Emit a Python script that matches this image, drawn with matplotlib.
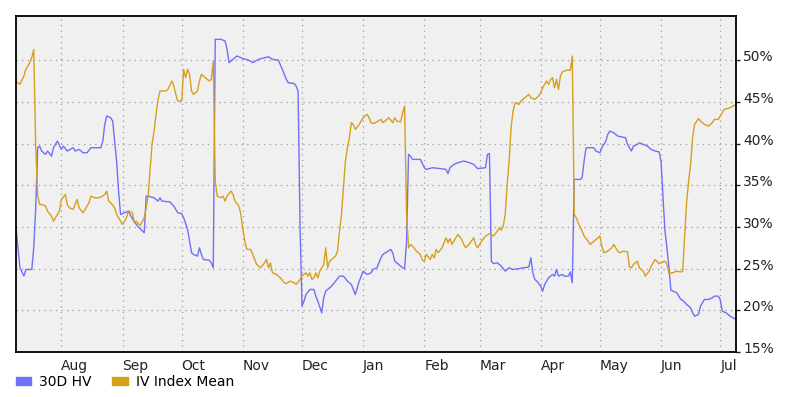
import matplotlib
matplotlib.use("Agg")
import matplotlib.pyplot as plt
import matplotlib.dates as mdates
from matplotlib.patches import Patch
from matplotlib.transforms import ScaledTranslation
import pandas as pd

# 30D historical volatility (%)
hv_dates = [
    "2022-07-09", "2022-07-11", "2022-07-13", "2022-07-14", "2022-07-17", "2022-07-18", "2022-07-19",
    "2022-07-20", "2022-07-21", "2022-07-22", "2022-07-24", "2022-07-25", "2022-07-27", "2022-07-28",
    "2022-07-29", "2022-07-30", "2022-08-01", "2022-08-02", "2022-08-04", "2022-08-07", "2022-08-08",
    "2022-08-10", "2022-08-12", "2022-08-14", "2022-08-16", "2022-08-21", "2022-08-22", "2022-08-23",
    "2022-08-24", "2022-08-26", "2022-08-27", "2022-08-28", "2022-08-29", "2022-08-30", "2022-08-31",
    "2022-09-01", "2022-09-04", "2022-09-05", "2022-09-07", "2022-09-09", "2022-09-12", "2022-09-13",
    "2022-09-14", "2022-09-17", "2022-09-19", "2022-09-20", "2022-09-21", "2022-09-25", "2022-09-27",
    "2022-09-29", "2022-10-01", "2022-10-02", "2022-10-04", "2022-10-05", "2022-10-06", "2022-10-07",
    "2022-10-09", "2022-10-10", "2022-10-11", "2022-10-12", "2022-10-15", "2022-10-16", "2022-10-17",
    "2022-10-18", "2022-10-21", "2022-10-23", "2022-10-24", "2022-10-25", "2022-10-27", "2022-10-29",
    "2022-11-01", "2022-11-04", "2022-11-06", "2022-11-09", "2022-11-12", "2022-11-14", "2022-11-16",
    "2022-11-19", "2022-11-21", "2022-11-23", "2022-11-24", "2022-11-27", "2022-11-28", "2022-11-29",
    "2022-11-30", "2022-12-01", "2022-12-02", "2022-12-03", "2022-12-05", "2022-12-07", "2022-12-08",
    "2022-12-09", "2022-12-10", "2022-12-11", "2022-12-12", "2022-12-13", "2022-12-16", "2022-12-18",
    "2022-12-20", "2022-12-22", "2022-12-24", "2022-12-26", "2022-12-27", "2022-12-28", "2022-12-29",
    "2022-12-30", "2023-01-01", "2023-01-03", "2023-01-05", "2023-01-06", "2023-01-08", "2023-01-10",
    "2023-01-11", "2023-01-13", "2023-01-15", "2023-01-16", "2023-01-17", "2023-01-19", "2023-01-21",
    "2023-01-22", "2023-01-23", "2023-01-24", "2023-01-25", "2023-01-26", "2023-01-30", "2023-02-01",
    "2023-02-02", "2023-02-05", "2023-02-09", "2023-02-12", "2023-02-13", "2023-02-14", "2023-02-16",
    "2023-02-18", "2023-02-21", "2023-02-24", "2023-02-26", "2023-02-28", "2023-03-04", "2023-03-05",
    "2023-03-06", "2023-03-07", "2023-03-08", "2023-03-10", "2023-03-12", "2023-03-14", "2023-03-16",
    "2023-03-18", "2023-03-21", "2023-03-26", "2023-03-27", "2023-03-28", "2023-03-29", "2023-03-30",
    "2023-04-01", "2023-04-02", "2023-04-03", "2023-04-05", "2023-04-07", "2023-04-08", "2023-04-09",
    "2023-04-10", "2023-04-12", "2023-04-13", "2023-04-15", "2023-04-16", "2023-04-17", "2023-04-18",
    "2023-04-21", "2023-04-22", "2023-04-23", "2023-04-24", "2023-04-28", "2023-04-29", "2023-05-01",
    "2023-05-02", "2023-05-04", "2023-05-05", "2023-05-06", "2023-05-08", "2023-05-10", "2023-05-12",
    "2023-05-14", "2023-05-15", "2023-05-17", "2023-05-18", "2023-05-20", "2023-05-21", "2023-05-23",
    "2023-05-25", "2023-05-27", "2023-05-29", "2023-05-31", "2023-06-01", "2023-06-02", "2023-06-03",
    "2023-06-04", "2023-06-05", "2023-06-06", "2023-06-07", "2023-06-09", "2023-06-11", "2023-06-12",
    "2023-06-14", "2023-06-16", "2023-06-17", "2023-06-18", "2023-06-20", "2023-06-21", "2023-06-23",
    "2023-06-25", "2023-06-27", "2023-06-28", "2023-06-30", "2023-07-01", "2023-07-02", "2023-07-04",
    "2023-07-06", "2023-07-09",
]
hv_vals = [
    29.9, 25.1, 24.1, 24.9, 24.9, 27.5, 32.3,
    39.5, 39.7, 39.1, 38.7, 39.1, 38.5, 39.5,
    39.9, 40.3, 39.3, 39.7, 39.1, 39.5, 39.1,
    39.3, 38.9, 38.9, 39.5, 39.5, 40.3, 42.3,
    43.3, 43.1, 42.7, 40.3, 37.9, 34.3, 31.5,
    31.6, 31.9, 31.4, 30.6, 30.0, 29.3, 33.7,
    33.7, 33.5, 33.1, 33.5, 33.1, 33.0, 32.5,
    31.7, 31.6, 31.1, 29.7, 28.3, 26.9, 26.7,
    26.5, 27.5, 26.7, 26.1, 26.0, 25.7, 25.1,
    52.5, 52.5, 52.3, 51.3, 49.7, 50.1, 50.5,
    50.2, 50.0, 49.7, 50.1, 50.3, 50.4, 50.1,
    50.0, 48.9, 47.7, 47.3, 47.2, 46.9, 46.3,
    30.0, 20.5, 21.1, 21.9, 22.5, 22.5, 21.7,
    21.1, 20.4, 19.7, 21.5, 22.3, 22.9, 23.5,
    24.1, 24.1, 23.5, 23.1, 22.5, 21.9, 22.7,
    23.5, 24.7, 24.3, 24.5, 24.9, 25.1, 26.3,
    26.7, 27.0, 27.3, 26.9, 25.9, 25.5, 25.1,
    25.0, 28.3, 38.7, 38.5, 38.1, 38.1, 37.1,
    36.9, 37.1, 37.0, 36.9, 36.4, 37.1, 37.5,
    37.7, 37.9, 37.7, 37.5, 37.0, 37.1, 38.7,
    38.8, 25.9, 25.6, 25.7, 25.3, 24.7, 25.1,
    24.9, 25.0, 25.2, 26.3, 24.5, 23.7, 23.5,
    22.9, 22.3, 23.1, 23.9, 24.3, 24.1, 24.9,
    24.1, 24.3, 24.1, 24.1, 24.6, 23.3, 35.7,
    35.7, 35.9, 37.9, 39.5, 39.5, 39.1, 38.9,
    39.5, 40.3, 41.1, 41.5, 41.3, 40.9, 40.8,
    40.7, 39.9, 39.1, 39.7, 39.9, 40.1, 39.9,
    39.7, 39.3, 39.1, 39.0, 37.9, 33.5, 29.5,
    27.5, 25.1, 22.4, 22.3, 22.1, 21.3, 21.2,
    20.7, 20.3, 19.7, 19.3, 19.5, 20.5, 21.3,
    21.3, 21.5, 21.7, 21.7, 21.3, 19.9, 19.7,
    19.3, 18.9,
]

# IV index mean (%)
iv_dates = [
    "2022-07-09", "2022-07-10", "2022-07-11", "2022-07-13", "2022-07-14", "2022-07-16", "2022-07-17",
    "2022-07-18", "2022-07-19", "2022-07-20", "2022-07-21", "2022-07-22", "2022-07-24", "2022-07-25",
    "2022-07-27", "2022-07-28", "2022-07-29", "2022-07-31", "2022-08-01", "2022-08-03", "2022-08-04",
    "2022-08-05", "2022-08-07", "2022-08-09", "2022-08-10", "2022-08-12", "2022-08-13", "2022-08-15",
    "2022-08-16", "2022-08-18", "2022-08-20", "2022-08-22", "2022-08-23", "2022-08-24", "2022-08-25",
    "2022-08-26", "2022-08-28", "2022-08-29", "2022-08-31", "2022-09-01", "2022-09-03", "2022-09-04",
    "2022-09-06", "2022-09-07", "2022-09-08", "2022-09-09", "2022-09-10", "2022-09-12", "2022-09-13",
    "2022-09-14", "2022-09-15", "2022-09-16", "2022-09-17", "2022-09-18", "2022-09-19", "2022-09-20",
    "2022-09-23", "2022-09-24", "2022-09-26", "2022-09-27", "2022-09-28", "2022-09-29", "2022-10-01",
    "2022-10-02", "2022-10-03", "2022-10-04", "2022-10-05", "2022-10-06", "2022-10-07", "2022-10-09",
    "2022-10-10", "2022-10-11", "2022-10-13", "2022-10-15", "2022-10-16", "2022-10-17", "2022-10-18",
    "2022-10-19", "2022-10-21", "2022-10-22", "2022-10-23", "2022-10-24", "2022-10-26", "2022-10-27",
    "2022-10-28", "2022-10-30", "2022-10-31", "2022-11-01", "2022-11-02", "2022-11-03", "2022-11-05",
    "2022-11-06", "2022-11-07", "2022-11-08", "2022-11-10", "2022-11-12", "2022-11-13", "2022-11-14",
    "2022-11-15", "2022-11-16", "2022-11-18", "2022-11-20", "2022-11-22", "2022-11-23", "2022-11-25",
    "2022-11-27", "2022-11-28", "2022-11-30", "2022-12-01", "2022-12-03", "2022-12-04", "2022-12-05",
    "2022-12-06", "2022-12-07", "2022-12-08", "2022-12-09", "2022-12-10", "2022-12-11", "2022-12-12",
    "2022-12-13", "2022-12-14", "2022-12-15", "2022-12-17", "2022-12-18", "2022-12-19", "2022-12-20",
    "2022-12-21", "2022-12-22", "2022-12-23", "2022-12-24", "2022-12-25", "2022-12-26", "2022-12-27",
    "2022-12-28", "2022-12-30", "2022-12-31", "2023-01-01", "2023-01-03", "2023-01-04", "2023-01-05",
    "2023-01-06", "2023-01-08", "2023-01-10", "2023-01-11", "2023-01-12", "2023-01-14", "2023-01-16",
    "2023-01-17", "2023-01-18", "2023-01-20", "2023-01-21", "2023-01-22", "2023-01-23", "2023-01-24",
    "2023-01-25", "2023-01-26", "2023-01-28", "2023-01-30", "2023-01-31", "2023-02-01", "2023-02-02",
    "2023-02-04", "2023-02-05", "2023-02-06", "2023-02-07", "2023-02-08", "2023-02-10", "2023-02-11",
    "2023-02-12", "2023-02-13", "2023-02-14", "2023-02-15", "2023-02-17", "2023-02-18", "2023-02-20",
    "2023-02-21", "2023-02-22", "2023-02-24", "2023-02-26", "2023-02-27", "2023-02-28", "2023-03-02",
    "2023-03-04", "2023-03-06", "2023-03-07", "2023-03-08", "2023-03-10", "2023-03-11", "2023-03-12",
    "2023-03-13", "2023-03-14", "2023-03-15", "2023-03-16", "2023-03-17", "2023-03-18", "2023-03-19",
    "2023-03-21", "2023-03-22", "2023-03-24", "2023-03-26", "2023-03-27", "2023-03-29", "2023-03-31",
    "2023-04-01", "2023-04-02", "2023-04-04", "2023-04-05", "2023-04-06", "2023-04-07", "2023-04-08",
    "2023-04-09", "2023-04-10", "2023-04-11", "2023-04-12", "2023-04-14", "2023-04-16", "2023-04-17",
    "2023-04-18", "2023-04-19", "2023-04-20", "2023-04-22", "2023-04-23", "2023-04-25", "2023-04-26",
    "2023-04-28", "2023-04-29", "2023-05-01", "2023-05-02", "2023-05-03", "2023-05-05", "2023-05-07",
    "2023-05-08", "2023-05-09", "2023-05-10", "2023-05-11", "2023-05-13", "2023-05-15", "2023-05-16",
    "2023-05-17", "2023-05-18", "2023-05-20", "2023-05-21", "2023-05-23", "2023-05-24", "2023-05-26",
    "2023-05-27", "2023-05-29", "2023-05-31", "2023-06-01", "2023-06-03", "2023-06-04", "2023-06-05",
    "2023-06-07", "2023-06-09", "2023-06-11", "2023-06-12", "2023-06-13", "2023-06-14", "2023-06-15",
    "2023-06-16", "2023-06-17", "2023-06-18", "2023-06-20", "2023-06-21", "2023-06-23", "2023-06-25",
    "2023-06-27", "2023-06-28", "2023-06-30", "2023-07-02", "2023-07-03", "2023-07-06", "2023-07-09",
]
iv_vals = [
    47.3, 47.3, 47.1, 48.1, 48.9, 49.7, 50.3,
    51.3, 39.5, 33.7, 32.7, 32.7, 32.5, 31.9,
    31.3, 30.7, 31.1, 31.9, 33.3, 33.9, 32.7,
    32.3, 32.1, 33.3, 32.3, 31.7, 32.1, 32.9,
    33.7, 33.5, 33.5, 33.7, 33.9, 34.3, 33.1,
    32.9, 32.3, 31.5, 30.7, 30.3, 31.1, 31.9,
    31.7, 30.5, 30.7, 30.4, 30.2, 31.1, 32.3,
    33.7, 37.0, 40.0, 41.5, 43.5, 45.3, 46.3,
    46.3, 46.5, 47.5, 46.9, 45.9, 45.1, 45.1,
    48.9, 47.9, 48.9, 48.3, 46.3, 45.9, 46.3,
    47.5, 48.3, 47.9, 47.5, 47.7, 49.9, 35.5,
    33.7, 33.5, 33.7, 33.1, 33.7, 34.3, 33.9,
    33.1, 32.5, 31.5, 29.7, 28.3, 27.3, 27.3,
    26.7, 26.1, 25.5, 25.1, 25.7, 26.1, 25.1,
    25.7, 24.5, 24.3, 23.9, 23.3, 23.2, 23.5,
    23.3, 23.1, 23.7, 24.1, 24.5, 24.1, 24.5,
    23.7, 23.9, 24.5, 23.9, 24.7, 25.1, 25.5,
    27.5, 25.1, 25.9, 26.3, 26.5, 27.1, 29.5,
    31.5, 34.7, 37.9, 39.5, 40.7, 42.5, 42.3,
    41.7, 42.3, 42.7, 43.1, 43.5, 43.1, 42.5,
    42.4, 42.6, 42.9, 42.5, 42.7, 43.1, 42.5,
    43.1, 42.7, 42.6, 43.7, 44.5, 31.5, 27.5,
    27.9, 27.7, 27.1, 26.7, 26.0, 25.9, 26.7,
    26.1, 26.7, 26.3, 27.3, 26.9, 27.5, 28.1,
    28.7, 28.1, 28.6, 27.9, 28.7, 29.1, 28.5,
    27.9, 27.5, 28.0, 28.7, 27.9, 27.5, 28.3,
    28.9, 29.2, 29.1, 28.9, 29.5, 29.9, 29.6,
    30.1, 31.5, 35.1, 37.9, 42.0, 43.9, 44.9,
    44.7, 45.1, 45.5, 45.9, 45.5, 45.3, 45.7,
    46.1, 46.7, 47.5, 47.1, 47.7, 47.9, 46.7,
    47.7, 46.5, 48.1, 48.6, 48.8, 48.8, 50.5,
    31.5, 31.1, 30.5, 29.5, 28.9, 28.3, 27.9,
    28.3, 28.5, 28.9, 27.7, 26.9, 27.1, 27.5,
    27.9, 27.5, 27.1, 26.9, 27.1, 27.0, 25.2,
    25.1, 25.5, 25.9, 25.1, 24.7, 24.1, 24.7,
    25.3, 26.1, 25.6, 25.7, 25.9, 25.5, 24.5,
    24.5, 24.7, 24.6, 24.7, 29.1, 33.1, 35.5,
    37.5, 40.7, 42.3, 43.0, 42.7, 42.3, 42.1,
    42.5, 42.9, 42.9, 43.7, 44.1, 44.3, 44.7,
]

y_ticks = [15, 20, 25, 30, 35, 40, 45, 50]
series_labels = ["30D HV", "IV Index Mean"]

hv_color = "#7070f8"
iv_color = "#d6a01c"

plt.rcParams["font.family"] = "DejaVu Sans"

fig = plt.figure(figsize=(8.09, 3.97), dpi=100)
ax = fig.add_axes([16 / 809, 45 / 397, 720 / 809, 336 / 397])
ax.set_facecolor("#f0f0f0")

ax.plot(pd.to_datetime(hv_dates), hv_vals, color=hv_color, lw=1.0)
ax.plot(pd.to_datetime(iv_dates), iv_vals, color=iv_color, lw=1.0)

ax.set_xlim(pd.Timestamp("2022-07-09"), pd.Timestamp("2023-07-09"))
ax.set_ylim(15, 55.3)

ax.xaxis.set_major_locator(mdates.MonthLocator())
ax.xaxis.set_major_formatter(mdates.DateFormatter("%b"))
ax.yaxis.tick_right()
ax.set_yticks(y_ticks)
ax.set_yticklabels([f"{v}%" for v in y_ticks])

ax.grid(True, color="#9a9a9a", linestyle=(0, (1, 3.5)), linewidth=0.9)
ax.set_axisbelow(True)

for side in ["top", "bottom", "left", "right"]:
    ax.spines[side].set_color("black")
    ax.spines[side].set_linewidth(1.3)

ax.tick_params(axis="x", length=0, pad=5, labelsize=10, colors="#222222")
ax.tick_params(axis="y", length=3, width=1, pad=2, labelsize=10, colors="#222222")
for lab in ax.get_xticklabels():
    lab.set_ha("left")
for lab in ax.get_yticklabels():
    lab.set_transform(lab.get_transform() + ScaledTranslation(0, 0.045, fig.dpi_scale_trans))

handles = [Patch(color=hv_color, label=series_labels[0]),
           Patch(color=iv_color, label=series_labels[1])]
fig.legend(handles=handles, loc="center left", bbox_to_anchor=(10 / 809, 1 - 382 / 397),
           ncol=2, frameon=False, fontsize=10, handlelength=1.1, handleheight=0.5,
           handletextpad=0.6, columnspacing=1.5, borderaxespad=0)

fig.savefig("out.png", dpi=100, facecolor="white")
